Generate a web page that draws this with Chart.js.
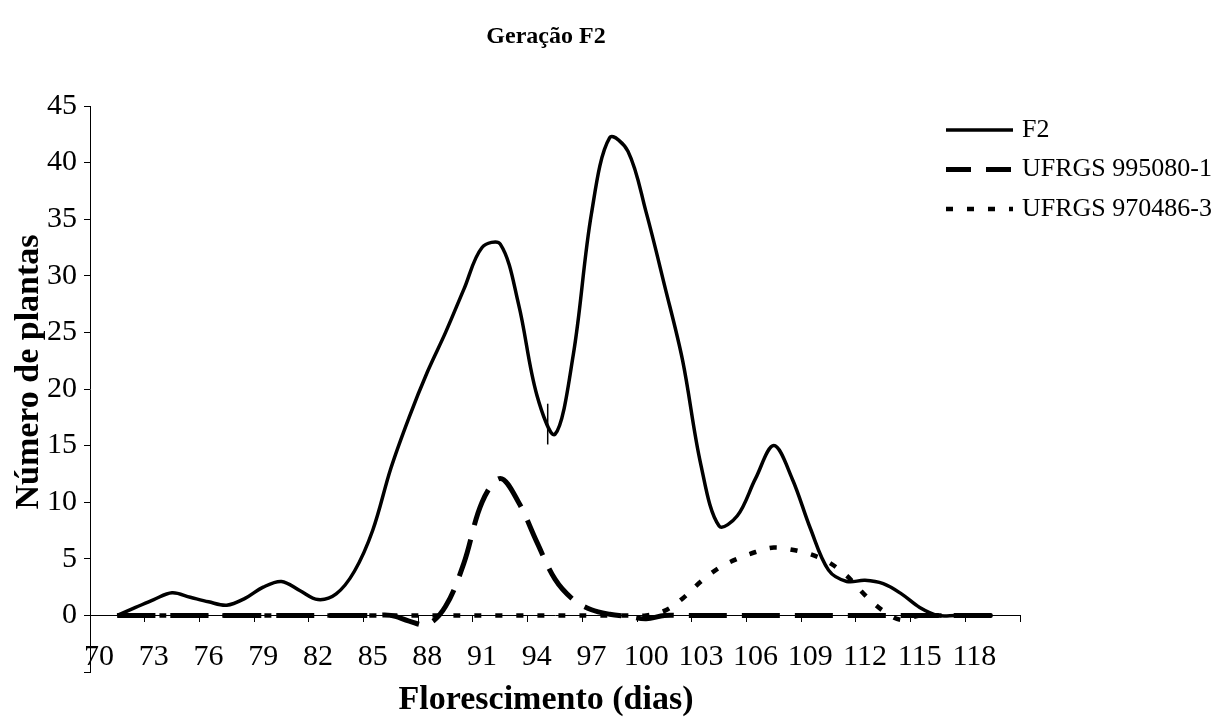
<!DOCTYPE html>
<html lang="pt">
<head>
<meta charset="utf-8">
<title>Geração F2</title>
<script src="https://cdn.jsdelivr.net/npm/chart.js@4.4.1/dist/chart.umd.min.js"></script>
<style>
  html, body { margin: 0; padding: 0; background: #fff; }
  #wrap { width: 1228px; height: 724px; }
</style>
</head>
<body>
<div id="wrap"><canvas id="grafico"></canvas></div>
<script>
// Dias de florescimento (categorias do eixo x)
const dias = [70, 71, 72, 73, 74, 75, 76, 77, 78, 79, 80, 81, 82, 83, 84, 85, 86, 87, 88, 89,
    90, 91, 92, 93, 94, 95, 96, 97, 98, 99, 100, 101, 102, 103, 104, 105, 106, 107, 108, 109,
    110, 111, 112, 113, 114, 115, 116, 117, 118, 119, 120];
const rotulosX = ["70", "73", "76", "79", "82", "85", "88", "91", "94", "97", "100", "103", "106", "109", "112", "115", "118"];

// Número de plantas por dia
const f2 = [null, 0, 0.7, 1.4, 2.0, 1.6, 1.2, 0.9, 1.5, 2.5, 3.0, 2.2, 1.4, 1.9, 3.9, 7.5, 13.0, 17.5, 21.5, 25.0,
    28.8, 32.5, 32.8, 27.5, 19.5, 16.0, 23.0, 35.5, 42.2, 41.0, 35.6, 29.2, 22.5, 13.3, 7.9, 8.8, 12.1, 15.0, 12.1, 7.7,
    4.0, 3.0, 3.1, 2.8, 1.9, 0.7, 0, 0, 0, 0, null];
const ufrgs995080 = [null, 0, 0, 0, 0, 0, 0, 0, 0, 0, 0, 0, 0, 0, 0, 0, 0, -0.5, -0.8, 0.8,
    4.6, 10.0, 12.1, 10.0, 6.5, 3.2, 1.4, 0.5, 0.1, -0.1, -0.3, 0, 0, 0, 0, 0, 0, 0, 0, 0,
    0, 0, 0, 0, 0, 0, 0, 0, 0, 0, null];
const ufrgs970486 = [null, 0, 0, 0, 0, 0, 0, 0, 0, 0, 0, 0, 0, 0, 0, 0, 0, 0, 0, 0,
    0, 0, 0, 0, 0, 0, 0, 0, 0, 0, 0, 0.4, 1.5, 3.0, 4.2, 5.0, 5.6, 6.0, 5.8, 5.4,
    4.7, 3.5, 1.8, 0.4, -0.4, 0, 0, 0, 0, 0, null];

const yMin = -5, yMax = 45, yPasso = 5;

// traço vertical solto perto do vale de F2
const marcaDia = 94.6;
const marcaValores = [15.1, 18.7];

const fonte = "'Liberation Serif', 'Times New Roman', serif";

// legenda desenhada à mão (fica por cima da área do gráfico, como no original)
const legendaPlugin = {
    id: "legenda",
    afterDraw(chart) {
        const ctx = chart.ctx;
        const area = chart.chartArea;
        const tracos = [[], [25, 15], [7, 14]];
        ctx.save();
        chart.data.datasets.forEach((ds, i) => {
            const y = area.top + 24 + i * 39.5;
            ctx.beginPath();
            ctx.setLineDash(tracos[i]);
            ctx.lineWidth = ds.borderWidth;
            ctx.strokeStyle = ds.borderColor;
            ctx.moveTo(area.right - 74, y);
            ctx.lineTo(area.right - 7, y);
            ctx.stroke();
            ctx.setLineDash([]);
            ctx.fillStyle = "#000";
            ctx.font = "26px " + fonte;
            ctx.textBaseline = "middle";
            ctx.fillText(ds.label, area.right + 2, y);
        });
        ctx.restore();
    }
};

// títulos (o Excel os desloca um pouco do centro da área)
const titulosPlugin = {
    id: "titulos",
    afterDraw(chart) {
        const ctx = chart.ctx;
        const area = chart.chartArea;
        const cx = (area.left + area.right) / 2 - 9;
        ctx.save();
        ctx.fillStyle = "#000";
        ctx.textAlign = "center";
        ctx.textBaseline = "middle";

        ctx.font = "bold 24px " + fonte;
        ctx.fillText("Geração F2", cx, 37);

        ctx.font = "bold 34px " + fonte;
        ctx.fillText("Florescimento (dias)", cx, area.bottom + 28);

        ctx.translate(area.left - 61, (area.top + area.bottom) / 2 - 17);
        ctx.rotate(-Math.PI / 2);
        ctx.fillText("Número de plantas", 0, 0);
        ctx.restore();
    }
};

const marcaPlugin = {
    id: "marca",
    afterDatasetsDraw(chart) {
        const { ctx, scales: { x, y } } = chart;
        const px = x.getPixelForValue(marcaDia - dias[0]);
        ctx.save();
        ctx.beginPath();
        ctx.lineWidth = 1.5;
        ctx.strokeStyle = "#000";
        ctx.moveTo(px, y.getPixelForValue(marcaValores[0]));
        ctx.lineTo(px, y.getPixelForValue(marcaValores[1]));
        ctx.stroke();
        ctx.restore();
    }
};

const ctx = document.getElementById("grafico").getContext("2d");
new Chart(ctx, {
    type: "line",
    data: {
        labels: dias.map(String),
        datasets: [{
            label: "F2",
            data: f2,
            borderColor: "#000",
            borderWidth: 3.5,
            tension: 0.35,
            pointRadius: 0
        }, {
            label: "UFRGS 995080-1",
            data: ufrgs995080,
            borderColor: "#000",
            borderWidth: 5,
            borderDash: [38, 15],
            tension: 0.35,
            pointRadius: 0
        }, {
            label: "UFRGS 970486-3",
            data: ufrgs970486,
            borderColor: "#000",
            borderWidth: 4.5,
            borderDash: [7, 14],
            tension: 0.35,
            pointRadius: 0
        }]
    },
    options: {
        responsive: true,
        maintainAspectRatio: false,
        animation: false,
        layout: { padding: { top: 106, right: 208, bottom: 52, left: 0 } },
        plugins: {
            legend: { display: false },
            tooltip: { enabled: false }
        },
        scales: {
            x: {
                position: { y: 0 },
                offset: true,
                border: { color: "#000", width: 1 },
                grid: {
                    offset: true,
                    drawOnChartArea: false,
                    tickLength: 6,
                    tickColor: c => (c.type === "scale" || c.index % 3 === 0) ? "#000" : "rgba(0,0,0,0)"
                },
                ticks: {
                    autoSkip: false,
                    maxRotation: 0,
                    padding: 18,
                    color: "#000",
                    font: { family: fonte, size: 30 },
                    callback: (v, i) => rotulosX.includes(String(dias[i])) ? String(dias[i]) : ""
                }
            },
            y: {
                min: yMin,
                max: yMax,
                afterFit: s => { s.width = 90; },
                border: { color: "#000", width: 1 },
                grid: { drawOnChartArea: false, tickLength: 6, tickColor: "#000" },
                ticks: {
                    stepSize: yPasso,
                    padding: 7,
                    color: "#000",
                    font: { family: fonte, size: 30 },
                    callback: v => v < 0 ? "" : v
                }
            }
        }
    },
    plugins: [legendaPlugin, titulosPlugin, marcaPlugin]
});
</script>
</body>
</html>
